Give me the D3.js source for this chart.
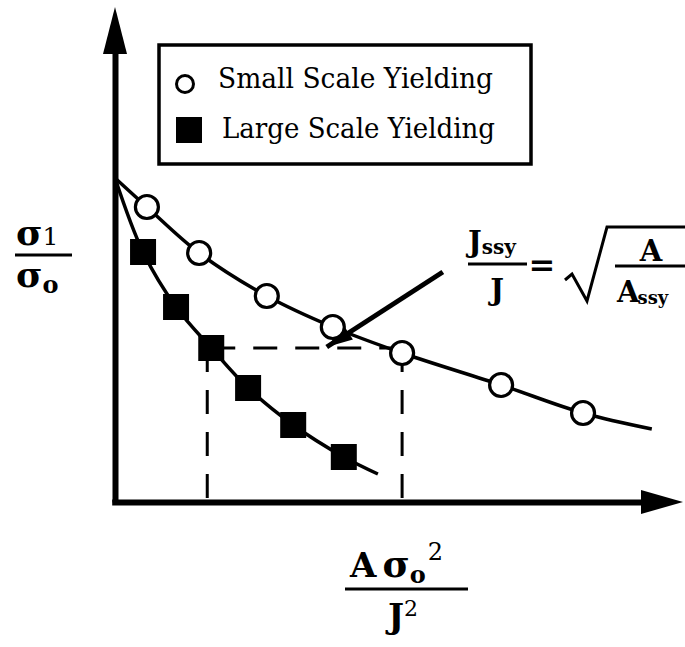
<!DOCTYPE html>
<html>
<head>
<meta charset="utf-8">
<script src="https://cdn.jsdelivr.net/npm/d3@7/dist/d3.min.js"></script>
<style>
  html, body { margin: 0; padding: 0; background: #fff; }
  svg { display: block; }
</style>
</head>
<body>
<svg id="chart" width="685" height="647" font-family="'DejaVu Serif', serif"></svg>
<script>
// ---- data (arbitrary normalized units, 0..100 on both axes) ----
const seriesNames = ["Small Scale Yielding", "Large Scale Yielding"];
const ssyX = [5.8, 15.3, 27.6, 39.6, 52.2, 70.2, 85.1];
const ssyY = [59.0, 49.8, 41.2, 35.0, 29.8, 23.4, 17.8];
const ssyCurveX = [0, 5.8, 15.3, 27.6, 39.6, 52.2, 70.2, 85.1, 97.6];
const ssyCurveY = [64.8, 59.0, 49.8, 41.2, 35.0, 29.8, 23.4, 17.8, 14.6];
const lsyX = [5.1, 11.1, 17.5, 24.2, 32.4, 41.6];
const lsyY = [50.0, 39.0, 30.8, 22.8, 15.4, 9.0];
const lsyCurveX = [0, 5.1, 11.1, 17.5, 24.2, 32.4, 41.6, 47.8];
const lsyCurveY = [64.8, 50.0, 39.0, 30.8, 22.8, 15.4, 9.0, 5.6];
// dashed construction: LSY point at same stress -> SSY point
const constructX = [17.5, 52.2];
const constructY = 30.8;
// pointer line (from label to intersection)
const pointerX = [59.6, 38.5];
const pointerY = [46.0, 31.0];
// axis extents (arrowheads continue beyond)
const xAxisExtent = [-0.6, 96];
const yAxisExtent = [0, 90];

const svg = d3.select("#chart");
const x = d3.scaleLinear().domain([0, 100]).range([115, 665]);
const y = d3.scaleLinear().domain([0, 100]).range([502, 2]);

// ---- axes ----
const xAxisScale = d3.scaleLinear().domain(xAxisExtent).range(xAxisExtent.map(x));
const yAxisScale = d3.scaleLinear().domain(yAxisExtent).range(yAxisExtent.map(y));
svg.append("g").attr("transform", `translate(0,${y(0)})`)
  .call(d3.axisBottom(xAxisScale).tickValues([]).tickSizeOuter(0));
svg.append("g").attr("transform", `translate(${x(0)},0)`)
  .call(d3.axisLeft(yAxisScale).tickValues([]).tickSizeOuter(0));
svg.selectAll(".domain").attr("stroke", "#000").attr("stroke-width", 6);

// arrowheads
const xe = x(xAxisExtent[1]), ye = y(yAxisExtent[1]);
svg.append("path").attr("d", `M${xe-2},${y(0)-12} L${xe+40},${y(0)} L${xe-2},${y(0)+12} Z`).attr("fill", "#000");
svg.append("path").attr("d", `M${x(0)-12},${ye+2} L${x(0)},${ye-45} L${x(0)+12},${ye+2} Z`).attr("fill", "#000");

// ---- dashed construction lines ----
const dash = svg.append("g").attr("stroke", "#000").attr("stroke-width", 3).attr("stroke-dasharray", "24,18").attr("fill", "none");
dash.append("line").attr("x1", x(constructX[0])).attr("x2", x(constructX[1])).attr("y1", y(constructY)).attr("y2", y(constructY));
dash.append("line").attr("x1", x(constructX[0]) - 4).attr("x2", x(constructX[0]) - 4).attr("y1", y(constructY)).attr("y2", y(0));
dash.append("line").attr("x1", x(constructX[1])).attr("x2", x(constructX[1])).attr("y1", y(constructY)).attr("y2", y(0));

// ---- curves ----
const line = d3.line().x(d => x(d[0])).y(d => y(d[1])).curve(d3.curveCatmullRom.alpha(0.5));
svg.append("path").datum(ssyCurveX.map((v, i) => [v, ssyCurveY[i]]))
  .attr("d", line).attr("fill", "none").attr("stroke", "#000").attr("stroke-width", 3.5);
svg.append("path").datum(lsyCurveX.map((v, i) => [v, lsyCurveY[i]]))
  .attr("d", line).attr("fill", "none").attr("stroke", "#000").attr("stroke-width", 3.5);

// ---- pointer ----
const px0 = x(pointerX[0]), py0 = y(pointerY[0]), px1 = x(pointerX[1]), py1 = y(pointerY[1]);
svg.append("line").attr("x1", px0).attr("y1", py0).attr("x2", px1).attr("y2", py1)
  .attr("stroke", "#000").attr("stroke-width", 5);
{
  const ang = Math.atan2(py1 - py0, px1 - px0);
  const L = 26, W = 8;
  const bx = px1 - L * Math.cos(ang), by = py1 - L * Math.sin(ang);
  const nx = -Math.sin(ang) * W, ny = Math.cos(ang) * W;
  svg.append("path").attr("d", `M${px1},${py1} L${bx+nx},${by+ny} L${bx-nx},${by-ny} Z`).attr("fill", "#000");
}

// ---- markers ----
svg.selectAll("circle.ssy").data(ssyX.map((v, i) => [v, ssyY[i]])).join("circle")
  .attr("class", "ssy").attr("cx", d => x(d[0])).attr("cy", d => y(d[1])).attr("r", 11.5)
  .attr("fill", "#fff").attr("stroke", "#000").attr("stroke-width", 3.2);
const sq = 26;
svg.selectAll("rect.lsy").data(lsyX.map((v, i) => [v, lsyY[i]])).join("rect")
  .attr("class", "lsy").attr("x", d => x(d[0]) - sq / 2).attr("y", d => y(d[1]) - sq / 2)
  .attr("width", sq).attr("height", sq).attr("fill", "#000");

// ---- legend ----
const lg = svg.append("g");
lg.append("rect").attr("x", 159).attr("y", 45).attr("width", 372).attr("height", 119)
  .attr("fill", "#fff").attr("stroke", "#000").attr("stroke-width", 3.5);
lg.append("circle").attr("cx", 185).attr("cy", 84).attr("r", 8.5).attr("fill", "#fff").attr("stroke", "#000").attr("stroke-width", 3);
lg.append("rect").attr("x", 176).attr("y", 117).attr("width", 26).attr("height", 26).attr("fill", "#000");
lg.append("text").attr("x", 218).attr("y", 88).attr("font-size", 28).attr("textLength", 275).attr("lengthAdjust", "spacingAndGlyphs").text(seriesNames[0]);
lg.append("text").attr("x", 222).attr("y", 138).attr("font-size", 28).attr("textLength", 273).attr("lengthAdjust", "spacingAndGlyphs").text(seriesNames[1]);

// ---- y label: sigma1 / sigma_o ----
const yl = svg.append("g").attr("font-weight", "bold");
const yn = yl.append("text").attr("x", 16).attr("y", 245).attr("font-size", 36);
yn.append("tspan").text("σ");
yn.append("tspan").attr("font-size", 25).attr("font-weight", "normal").text("1");
yl.append("line").attr("x1", 15).attr("x2", 72).attr("y1", 255).attr("y2", 255).attr("stroke", "#000").attr("stroke-width", 3);
const yd = yl.append("text").attr("x", 16).attr("y", 287).attr("font-size", 36);
yd.append("tspan").text("σ");
yd.append("tspan").attr("font-size", 24).attr("dy", 6).text("o");

// ---- x label: A sigma_o^2 / J^2 ----
const xl = svg.append("g").attr("font-weight", "bold");
const xn = xl.append("text").attr("x", 350).attr("y", 577).attr("font-size", 34);
xn.append("tspan").text("A");
xn.append("tspan").attr("dx", 6).attr("font-size", 37).text("σ");
xn.append("tspan").attr("font-size", 24).attr("dy", 6).text("o");
xn.append("tspan").attr("font-size", 24).attr("font-weight", "normal").attr("dx", 2).attr("dy", -23).text("2");
xl.append("line").attr("x1", 345).attr("x2", 468).attr("y1", 589).attr("y2", 589).attr("stroke", "#000").attr("stroke-width", 3);
const xd = xl.append("text").attr("x", 388).attr("y", 628).attr("font-size", 34);
xd.append("tspan").text("J");
xd.append("tspan").attr("font-size", 22).attr("font-weight", "normal").attr("dy", -12).text("2");

// ---- equation: J_ssy / J = sqrt(A / A_ssy) ----
const eq = svg.append("g").attr("font-weight", "bold");
const en = eq.append("text").attr("x", 468).attr("y", 252).attr("font-size", 29);
en.append("tspan").text("J");
en.append("tspan").attr("font-size", 20).attr("dy", 2).text("ssy");
eq.append("line").attr("x1", 468).attr("x2", 527).attr("y1", 264).attr("y2", 264).attr("stroke", "#000").attr("stroke-width", 3);
eq.append("text").attr("x", 497).attr("y", 300).attr("text-anchor", "middle").attr("font-size", 29).text("J");
eq.append("text").attr("x", 542).attr("y", 276).attr("text-anchor", "middle").attr("font-size", 32).text("=");
eq.append("path").attr("d", "M565,280 L572,274 L587,301 L607,227 L685,227")
  .attr("fill", "none").attr("stroke", "#000").attr("stroke-width", 3).attr("stroke-linejoin", "miter");
eq.append("text").attr("x", 651).attr("y", 261).attr("text-anchor", "middle").attr("font-size", 29).text("A");
eq.append("line").attr("x1", 615).attr("x2", 685).attr("y1", 266).attr("y2", 266).attr("stroke", "#000").attr("stroke-width", 3);
const ed = eq.append("text").attr("x", 617).attr("y", 302).attr("font-size", 29);
ed.append("tspan").text("A");
ed.append("tspan").attr("font-size", 18).attr("dy", 2).attr("dx", -2).text("ssy");
</script>
</body>
</html>
